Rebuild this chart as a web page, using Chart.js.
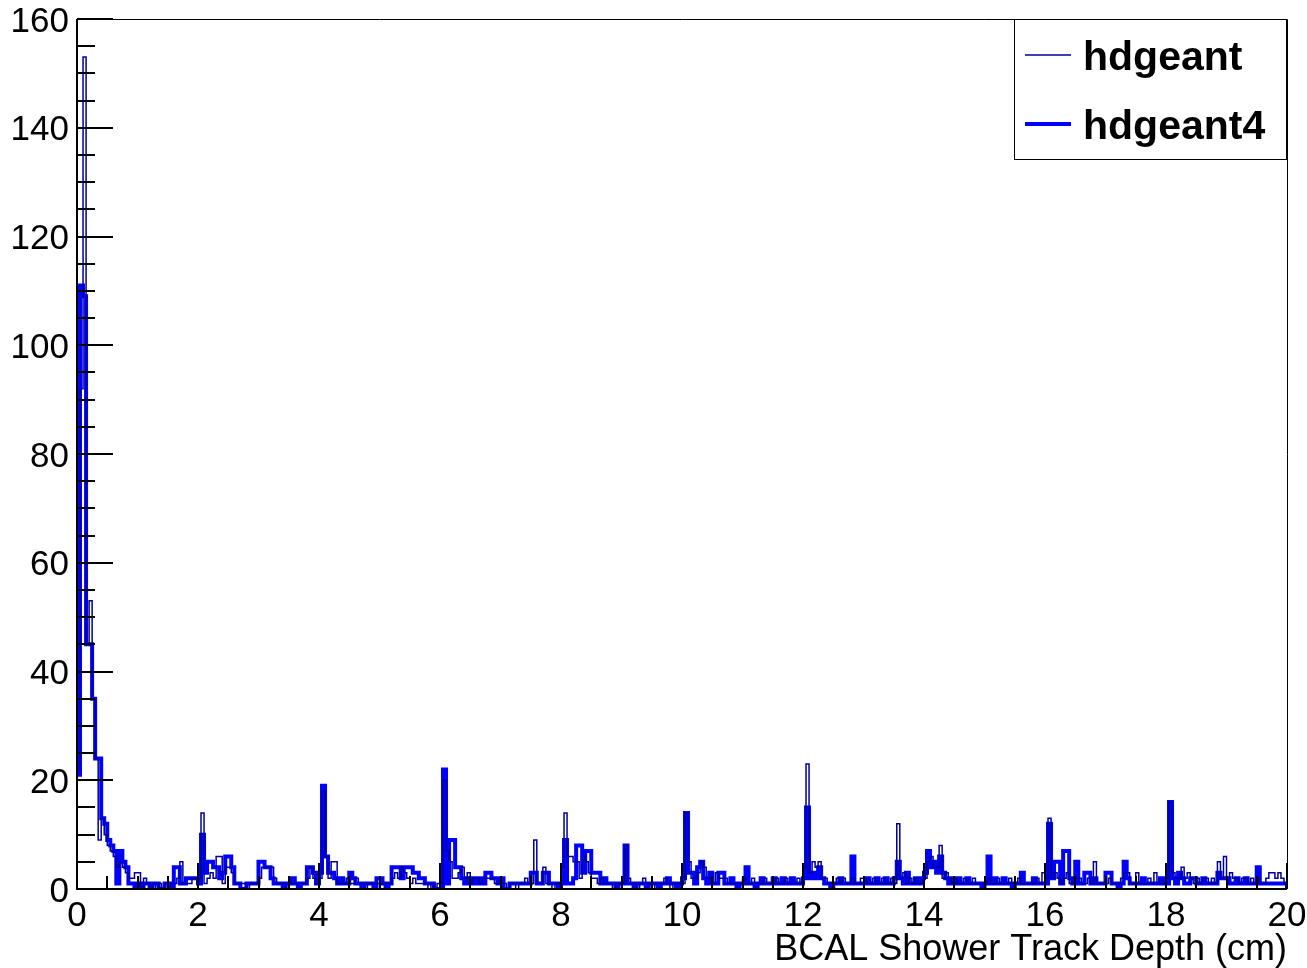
<!DOCTYPE html>
<html>
<head>
<meta charset="utf-8">
<script src="https://cdn.jsdelivr.net/npm/chart.js@4.4.1/dist/chart.umd.min.js"></script>
<style>
  html, body { margin: 0; padding: 0; background: #fff; }
  canvas { display: block; }
</style>
</head>
<body>
<canvas id="chartDepth" width="1307" height="968"></canvas>
<script>
// Histogram range and binning (400 bins of 0.05 cm over 0-20 cm)
const X_MIN = 0;
const X_MAX = 20;
const BIN_WIDTH = 0.05;
const Y_MIN = 0;
const Y_MAX = 160;

const X_TITLE = "BCAL Shower Track Depth (cm)";
const SERIES_NAMES = ["hdgeant", "hdgeant4"];

// Bin contents, one row per cm (20 bins each)
const hdgeant = [
  22, 92, 153, 45, 53, 35, 24, 9, 13, 10, 8, 7, 6, 4, 5, 4, 3, 2, 2, 3,
  3, 0, 2, 1, 0, 1, 0, 1, 0, 1, 0, 1, 1, 2, 5, 1, 1, 1, 2, 2,
  2, 14, 1, 2, 3, 2, 6, 6, 1, 4, 4, 3, 1, 1, 1, 1, 0, 1, 1, 1,
  2, 4, 4, 4, 4, 2, 1, 1, 1, 0, 1, 1, 1, 1, 1, 1, 2, 4, 2, 1,
  2, 18, 6, 2, 5, 5, 1, 1, 1, 2, 1, 1, 2, 1, 1, 0, 1, 1, 1, 1,
  1, 1, 1, 1, 2, 3, 2, 4, 3, 2, 1, 2, 1, 1, 1, 1, 0, 1, 0, 1,
  1, 20, 7, 5, 2, 2, 3, 4, 2, 3, 1, 2, 2, 1, 2, 2, 2, 2, 1, 1,
  1, 1, 0, 1, 1, 0, 1, 1, 2, 1, 1, 9, 1, 1, 4, 1, 1, 0, 1, 1,
  4, 14, 6, 6, 5, 5, 2, 6, 5, 3, 2, 2, 1, 2, 1, 1, 1, 0, 1, 1,
  1, 8, 2, 1, 1, 0, 1, 2, 1, 1, 0, 1, 1, 1, 2, 1, 0, 1, 1, 1,
  1, 14, 5, 2, 2, 3, 5, 4, 2, 2, 1, 3, 2, 2, 2, 1, 1, 1, 1, 1,
  2, 1, 1, 2, 1, 1, 1, 2, 1, 1, 1, 2, 1, 1, 2, 1, 1, 1, 2, 1,
  4, 23, 3, 5, 4, 5, 2, 2, 1, 1, 1, 2, 1, 2, 1, 1, 2, 1, 1, 2,
  2, 1, 1, 2, 1, 1, 2, 1, 1, 2, 1, 12, 2, 3, 1, 2, 1, 2, 1, 1,
  2, 5, 6, 4, 4, 8, 2, 3, 2, 1, 2, 1, 1, 2, 1, 1, 2, 1, 1, 1,
  1, 2, 1, 1, 2, 1, 1, 1, 2, 1, 1, 2, 1, 1, 1, 1, 1, 2, 1, 3,
  2, 13, 2, 3, 2, 1, 2, 3, 1, 2, 2, 2, 1, 1, 2, 1, 5, 1, 1, 1,
  1, 2, 1, 1, 1, 2, 3, 3, 1, 1, 3, 1, 1, 1, 2, 1, 3, 1, 1, 1,
  2, 16, 3, 2, 2, 4, 2, 3, 2, 1, 2, 1, 2, 2, 1, 2, 1, 5, 2, 6,
  2, 3, 2, 2, 1, 2, 2, 1, 2, 1, 2, 1, 1, 2, 3, 3, 2, 3, 2, 1,
];

const hdgeant4 = [
  21, 111, 109, 45, 45, 35, 24, 24, 13, 12, 9, 8, 7, 1, 7, 5, 4, 1, 1, 0,
  1, 0, 1, 1, 0, 1, 1, 0, 0, 1, 1, 0, 4, 4, 1, 1, 2, 2, 2, 2,
  1, 10, 3, 5, 5, 4, 4, 2, 3, 6, 6, 4, 1, 1, 0, 0, 1, 1, 1, 1,
  5, 5, 4, 4, 2, 1, 1, 1, 0, 1, 1, 2, 1, 0, 1, 1, 4, 4, 3, 1,
  3, 19, 6, 3, 3, 2, 1, 2, 1, 1, 3, 2, 1, 1, 0, 1, 1, 1, 0, 2,
  2, 1, 0, 1, 4, 4, 4, 2, 4, 4, 4, 3, 3, 2, 2, 1, 1, 1, 0, 0,
  0, 22, 1, 9, 9, 4, 4, 2, 1, 2, 1, 2, 1, 2, 1, 3, 3, 2, 2, 1,
  2, 0, 0, 1, 1, 1, 1, 1, 1, 1, 3, 3, 1, 1, 3, 3, 1, 1, 1, 0,
  1, 9, 1, 1, 2, 8, 8, 3, 7, 7, 3, 3, 3, 1, 2, 1, 1, 1, 0, 1,
  1, 8, 1, 1, 0, 1, 1, 1, 0, 1, 1, 1, 0, 1, 1, 2, 1, 1, 0, 1,
  2, 14, 3, 3, 1, 4, 5, 2, 1, 3, 1, 1, 3, 3, 1, 1, 2, 1, 0, 1,
  1, 4, 1, 1, 0, 1, 2, 1, 1, 1, 2, 1, 1, 2, 1, 1, 2, 1, 1, 1,
  2, 15, 2, 3, 2, 4, 2, 1, 1, 0, 1, 1, 2, 1, 1, 1, 6, 1, 1, 1,
  1, 2, 1, 1, 2, 1, 1, 2, 1, 1, 2, 5, 2, 1, 3, 1, 1, 2, 1, 2,
  3, 7, 4, 5, 3, 6, 3, 2, 1, 2, 1, 2, 1, 1, 2, 1, 1, 1, 1, 0,
  1, 6, 1, 2, 1, 1, 2, 1, 1, 0, 1, 1, 3, 1, 1, 1, 2, 1, 1, 1,
  1, 12, 2, 5, 5, 1, 7, 7, 2, 1, 5, 1, 1, 3, 3, 1, 2, 1, 1, 1,
  3, 3, 1, 1, 0, 1, 5, 2, 1, 1, 1, 1, 2, 1, 1, 1, 1, 1, 2, 1,
  1, 16, 2, 1, 3, 2, 1, 1, 2, 2, 1, 1, 2, 1, 1, 1, 1, 3, 2, 2,
  2, 1, 1, 2, 1, 1, 2, 1, 1, 1, 4, 1, 1, 1, 1, 1, 1, 1, 1, 1,
];

// Axis divisions (ROOT style: primary + secondary ticks drawn inside the frame)
const X_MAJOR = 2, X_MINOR = 0.5;
const Y_MAJOR = 20, Y_MINOR = 5;

const FONT = "'Liberation Sans', Arial, Helvetica, sans-serif";

// Histogram outline: one point per bin low edge, plus the closing edge at X_MAX.
function histPoints(values) {
  const pts = values.map((v, i) => ({ x: X_MIN + i * BIN_WIDTH, y: v }));
  pts.push({ x: X_MAX, y: values[values.length - 1] });
  pts.push({ x: X_MAX, y: 0 });
  return pts;
}

// Frame, inward tick marks and the boxed legend, drawn the way ROOT does it.
const rootDecor = {
  id: "rootDecor",
  afterDatasetsDraw(chart) {
    const { ctx, chartArea: a, scales: { x, y } } = chart;
    ctx.save();
    ctx.strokeStyle = "#000";
    ctx.lineWidth = 2;
    ctx.beginPath();
    for (let v = Y_MIN; v <= Y_MAX + 1e-6; v += Y_MINOR) {
      const py = Math.round(y.getPixelForValue(v));
      const len = Math.abs(v % Y_MAJOR) < 1e-6 ? 36 : 18;
      ctx.moveTo(a.left, py);
      ctx.lineTo(a.left + len, py);
    }
    for (let v = X_MIN; v <= X_MAX + 1e-6; v += X_MINOR) {
      const px = Math.round(x.getPixelForValue(v));
      const len = Math.abs(v % X_MAJOR) < 1e-6 ? 26 : 13;
      ctx.moveTo(px, a.bottom);
      ctx.lineTo(px, a.bottom - len);
    }
    ctx.stroke();

    // axis lines (left / bottom) and thin top / right frame
    ctx.beginPath();
    ctx.moveTo(a.left, a.top);
    ctx.lineTo(a.left, a.bottom);
    ctx.lineTo(a.right, a.bottom);
    ctx.stroke();
    ctx.lineWidth = 1;
    ctx.beginPath();
    ctx.moveTo(a.left, a.top + 0.5);
    ctx.lineTo(a.right + 0.5, a.top + 0.5);
    ctx.lineTo(a.right + 0.5, a.bottom);
    ctx.stroke();
    ctx.restore();
  },
  afterDraw(chart) {
    const { ctx, chartArea: a } = chart;
    const box = { left: 1014.5, top: a.top + 0.5, right: a.right - 0.5, bottom: 159.5 };
    ctx.save();
    ctx.fillStyle = "#fff";
    ctx.fillRect(box.left, box.top, box.right - box.left, box.bottom - box.top);
    ctx.strokeStyle = "#000";
    ctx.lineWidth = 1;
    ctx.strokeRect(box.left, box.top, box.right - box.left, box.bottom - box.top);
    const rows = [70, 139];
    chart.data.datasets.forEach((ds, i) => {
      const base = rows[i];
      ctx.strokeStyle = ds.borderColor;
      ctx.lineWidth = ds.borderWidth;
      ctx.beginPath();
      ctx.moveTo(1025, base - 15);
      ctx.lineTo(1071, base - 15);
      ctx.stroke();
      ctx.fillStyle = "#000";
      ctx.font = `bold 41px ${FONT}`;
      ctx.textBaseline = "alphabetic";
      ctx.textAlign = "left";
      ctx.fillText(ds.label, 1083, base);
    });
    ctx.restore();
  },
};

const ctx = document.getElementById("chartDepth").getContext("2d");
new Chart(ctx, {
  type: "line",
  data: {
    datasets: [
      {
        label: SERIES_NAMES[0],
        data: histPoints(hdgeant),
        borderColor: "#000099",
        borderWidth: 1.5,
        stepped: "before",
        pointRadius: 0,
        fill: false,
        borderJoinStyle: "miter",
      },
      {
        label: SERIES_NAMES[1],
        data: histPoints(hdgeant4),
        borderColor: "#0000ff",
        borderWidth: 4,
        stepped: "before",
        pointRadius: 0,
        fill: false,
        borderJoinStyle: "miter",
      },
    ],
  },
  options: {
    responsive: false,
    animation: false,
    parsing: false,
    layout: { padding: { top: 19, right: 20, left: 0, bottom: 0 } },
    plugins: { legend: { display: false }, tooltip: { enabled: false } },
    scales: {
      x: {
        type: "linear",
        min: X_MIN,
        max: X_MAX,
        grid: { display: false, drawTicks: false },
        border: { display: false },
        ticks: {
          stepSize: X_MAJOR,
          autoSkip: false,
          maxRotation: 0,
          padding: 6,
          color: "#000",
          font: { family: FONT, size: 35 },
        },
        title: {
          display: true,
          text: X_TITLE,
          align: "end",
          color: "#000",
          font: { family: FONT, size: 36, lineHeight: 1.2 },
          padding: { top: 0, bottom: -4 },
        },
        afterFit(s) {
          s.height = 79;
          s.paddingLeft = 0;
          s.paddingRight = 0;
        },
      },
      y: {
        type: "linear",
        min: Y_MIN,
        max: Y_MAX,
        grid: { display: false, drawTicks: false },
        border: { display: false },
        ticks: {
          stepSize: Y_MAJOR,
          padding: 8,
          labelOffset: 3,
          color: "#000",
          font: { family: FONT, size: 35 },
        },
        afterFit(s) {
          s.width = 77;
          s.paddingTop = 0;
          s.paddingBottom = 0;
        },
      },
    },
  },
  plugins: [rootDecor],
});
</script>
</body>
</html>
